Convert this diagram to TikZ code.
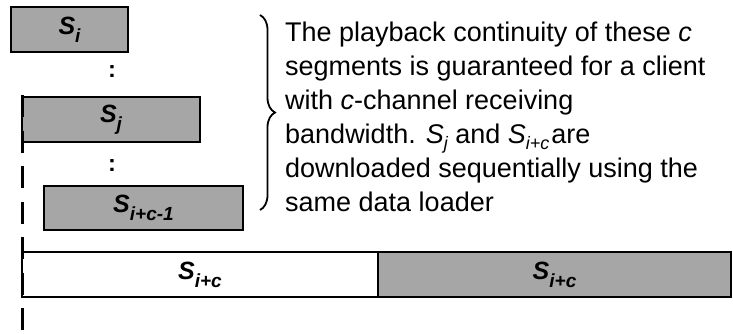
\documentclass[tikz,border=0pt]{standalone}
\usepackage{fontspec}
\setmainfont{Liberation Sans}
\usetikzlibrary{decorations.pathreplacing}

\definecolor{segGray}{RGB}{166,166,166}
\newcommand{\segsub}[1]{\raisebox{-8pt}{\fontsize{19}{19}\selectfont #1}}
\newcommand{\segname}[1]{S\segsub{#1}}
\newcommand{\txtsub}[1]{\raisebox{-6pt}{\fontsize{18}{18}\selectfont #1}}

\tikzset{
  seg/.style={draw, line width=2pt, fill=segGray, inner sep=0pt, minimum height=45pt,
    font=\fontsize{25}{25}\selectfont\bfseries\itshape},
  vdots/.style={inner sep=0pt, font=\fontsize{23.7}{24}\selectfont\bfseries},
}

\begin{document}
\begin{tikzpicture}[x=1pt,y=1pt,yscale=-1,xscale=1]
\useasboundingbox (0,0) rectangle (733,333);

%Shape: Rectangle [segments]
\node [seg, minimum width=117pt] (si) at (69.5,29.5) {\segname{i}};
\node [seg, minimum width=178pt] (sj) at (111,119.5) {\segname{j}};
\node [seg, minimum width=199pt, minimum height=44pt] (sic1) at (143.5,208) {\segname{i+c-1}};
\node [seg, fill=white, minimum width=356pt] (sicA) at (200,274.5) {\segname{i+c}};
\node [seg, minimum width=353pt] (sicB) at (554.5,274.5) {\segname{i+c}};

% Text Node
\node [vdots] (dotsA) at (112,72) {:};
\node [vdots] (dotsB) at (112,166) {:};

%Straight Lines [time line]
\coordinate (lineTop) at (22,95);
\coordinate (lineEnd) at (22,333);
\draw [line width=3pt, dash pattern=on 22pt off 13.5pt] (lineTop) -- (lineEnd);

%Shape: Brace
\coordinate (braceTop) at (260,15);
\coordinate (braceEnd) at (260,210);
\draw [line width=1.8pt, decorate, decoration={brace, amplitude=15pt}] (braceTop) -- (braceEnd);

% Text Node
\node [anchor=north west, inner sep=0pt, align=left, font=\fontsize{27}{34}\selectfont] (note) at (285,22)
  {The playback continuity of these \textit{c}\\
   segments is guaranteed for a client\\
   with \textit{c}-channel receiving\\
   bandwidth. \textit{S\txtsub{j}} and \textit{S\txtsub{i+c}}\hspace{2pt}are\\
   downloaded sequentially using the\\
   same data loader};
\end{tikzpicture}
\end{document}
